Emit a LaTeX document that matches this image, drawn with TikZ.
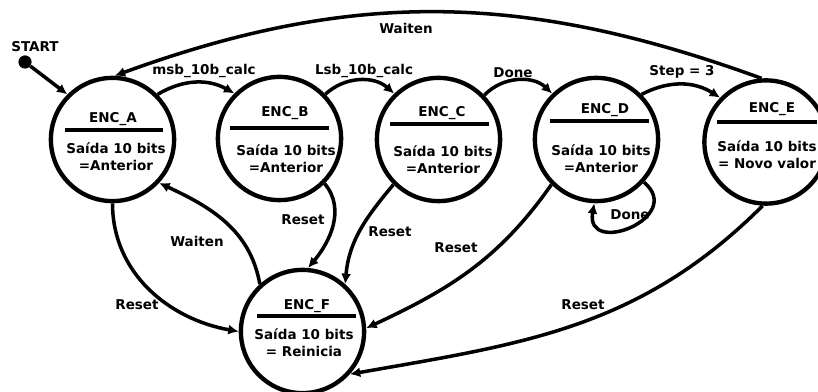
\documentclass[tikz,border=0pt]{standalone}
\usepackage{fontspec}
\setmainfont{DejaVu Sans}
\usepackage{tikz}
\usetikzlibrary{arrows.meta,calc}
\tikzset{
  fsmstate/.style={draw=black, circle, line width=3.1pt, minimum size=3.08cm, inner sep=0pt},
  fsmtext/.style={font=\fontsize{9.6}{12}\selectfont\bfseries, align=center, inner sep=0pt},
  fsmbar/.style={line width=3.1pt},
  fsmarrow/.style={-{Latex[length=2.6mm,width=2.5mm]}, line width=2.5pt, draw=black},
  fsmdot/.style={circle, fill=black, minimum size=0.33cm, inner sep=0pt}
}

\begin{document}
\begin{tikzpicture}[x=0.025cm,y=0.025cm]
  \useasboundingbox (0,0) rectangle (818,-392);

  % states
  \node[fsmstate] (A) at (112.5,-139.5) {};
  \node[fsmstate] (B) at (279.5,-138.5) {};
  \node[fsmstate] (C) at (438.5,-139.5) {};
  \node[fsmstate] (D) at (596.5,-139.5) {};
  \node[fsmstate] (E) at (766,-142) {};
  \node[fsmstate] (F) at (302.5,-331.5) {};

  % start
  \node[fsmdot] (start) at (25,-62) {};
  \node[fsmtext] (startlab) at (35,-47) {START};

  % ENC_A
  \node[fsmtext] (Aname) at (113,-119) {ENC\_A};
  \draw[fsmbar] (65,-130) -- (163,-130);
  \node[fsmtext] (Aout) at (116,-157) {Saída 10 bits\\=Anterior};

  % ENC_B
  \node[fsmtext] (Bname) at (285,-113) {ENC\_B};
  \draw[fsmbar] (230,-128) -- (329,-128);
  \node[fsmtext] (Bout) at (286,-158.5) {Saída 10 bits\\=Anterior};

  % ENC_C
  \node[fsmtext] (Cname) at (442,-113) {ENC\_C};
  \draw[fsmbar] (390,-124) -- (489,-124);
  \node[fsmtext] (Cout) at (443,-160) {Saída 10 bits\\=Anterior};

  % ENC_D
  \node[fsmtext] (Dname) at (605,-110) {ENC\_D};
  \draw[fsmbar] (550,-121) -- (649,-121);
  \node[fsmtext] (Dout) at (601,-158.5) {Saída 10 bits\\=Anterior};

  % ENC_E
  \node[fsmtext] (Ename) at (772,-109) {ENC\_E};
  \draw[fsmbar] (717,-122) -- (817,-122);
  \node[fsmtext] (Eout) at (767,-155) {Saída 10 bits\\ = Novo valor};

  % ENC_F
  \node[fsmtext] (Fname) at (307,-306) {ENC\_F};
  \draw[fsmbar] (257,-316) -- (356,-316);
  \node[fsmtext] (Fout) at (304,-342.5) {Saída 10 bits\\= Reinicia};

  % transition labels
  \node[fsmtext] (lmsb)   at (204,-71)  {msb\_10b\_calc};
  \node[fsmtext] (llsb)   at (364,-71)  {Lsb\_10b\_calc};
  \node[fsmtext] (ldone)  at (513,-73)  {Done};
  \node[fsmtext] (lstep)  at (682,-72)  {Step = 3};
  \node[fsmtext] (lwtop)  at (406,-28)  {Waiten};
  \node[fsmtext] (lloop)  at (630,-215) {Done};
  \node[fsmtext] (lwait)  at (197,-241) {Waiten};
  \node[fsmtext] (lrsa)   at (137,-305) {Reset};
  \node[fsmtext] (lrsb)   at (303,-220) {Reset};
  \node[fsmtext] (lrsc)   at (390,-232) {Reset};
  \node[fsmtext] (lrsd)   at (456,-248) {Reset};
  \node[fsmtext] (lrse)   at (583,-305) {Reset};

  % arrows: forward chain
  \draw[fsmarrow] (start) -- (A.135);
  \draw[fsmarrow] (A.45) to[bend left=30] (B.135);
  \draw[fsmarrow] (B.44) to[bend left=42] (C.134);
  \draw[fsmarrow] (C.44) to[bend left=45] (D.134);
  \draw[fsmarrow] (D.45) to[bend left=30] (E.136);

  % arrows: back to ENC_A
  \draw[fsmarrow] (E.94) to[out=160,in=20] (A.88);
  \draw[fsmarrow] (F.132) to[out=100,in=-25] (A.-43);

  % self loop
  \draw[fsmarrow] (D.-42) to[out=-40,in=-100,looseness=2.6] (D.-92);

  % arrows: reset
  \draw[fsmarrow] (A.-90) to[out=-90,in=170] (F.180);
  \draw[fsmarrow] (B.-45) to[out=-50,in=50] (F.85);
  \draw[fsmarrow] (C.-135) to[out=-130,in=85] (F.48);
  \draw[fsmarrow] (D.-135) to[out=-125,in=25] (F.3);
  \draw[fsmarrow] (E.-93) to[out=-135,in=10] (F.-42);

\end{tikzpicture}
\end{document}
